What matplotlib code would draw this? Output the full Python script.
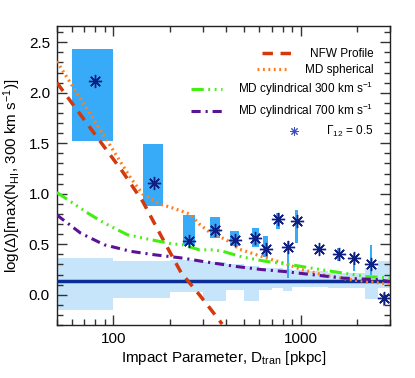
import numpy as np
import matplotlib
matplotlib.use('Agg')
import matplotlib.pyplot as plt
from matplotlib.ticker import FixedLocator, NullFormatter, FuncFormatter, MultipleLocator

plt.rcParams['font.family'] = ['Liberation Sans', 'DejaVu Sans']
plt.rcParams['mathtext.fontset'] = 'custom'
plt.rcParams['mathtext.rm'] = 'Liberation Sans'
plt.rcParams['mathtext.it'] = 'Liberation Sans:italic'

# measured points (Gamma_12 = 0.5) and their box extents
pt_x = [80, 164, 253, 350, 444, 574, 650, 753, 855, 955, 1247, 1596, 1927, 2366, 2780]
pt_y = [2.12, 1.105, 0.535, 0.637, 0.545, 0.56, 0.455, 0.752, 0.472, 0.726, 0.455, 0.406, 0.363, 0.307, -0.033]
box_xlo = [60, 144, 235, 330, 422, 553, 626, 738, 845, 933, 1225, 1570, 1895, 2330, 2740]
box_xhi = [100, 184, 274, 369, 466, 596, 672, 773, 863, 973, 1270, 1625, 1960, 2405, 2820]
box_ylo = [1.525, 0.88, 0.49, 0.56, 0.485, 0.47, 0.373, 0.65, 0.17, 0.51, 0.42, 0.337, 0.24, 0.198, -0.11]
box_yhi = [2.43, 1.49, 0.79, 0.77, 0.627, 0.66, 0.577, 0.81, 0.53, 0.835, 0.48, 0.46, 0.41, 0.495, 0.02]

# random-sightline band
band_edges = [50, 100, 200, 300, 400, 500, 600, 700, 800, 900, 1100, 1400, 1800, 2200, 2600, 3000]
band_top = [0.363, 0.337, 0.345, 0.32, 0.30, 0.28, 0.27, 0.27, 0.26, 0.25, 0.24, 0.22, 0.22, 0.27, 0.337]
band_bot = [-0.149, -0.033, 0.03, -0.066, 0.043, -0.06, 0.05, 0.066, 0.033, 0.076, 0.08, 0.066, 0.07, -0.04, 0.066]
mean_level = 0.132

# model curves
nfw_x = [50, 79, 112, 144, 184, 230, 288, 330, 381]
nfw_y = [2.10, 1.60, 1.22, 0.92, 0.55, 0.22, 0.0, -0.14, -0.29]

sph_x = [50, 89.5, 124, 143, 176, 207, 255, 288, 326, 400, 472, 667, 822, 1010, 1370, 1830, 2870, 3000]
sph_y = [2.31, 1.57, 1.155, 1.0, 0.90, 0.86, 0.80, 0.70, 0.62, 0.545, 0.45, 0.36, 0.31, 0.25, 0.19, 0.15, 0.11, 0.11]

cyl300_x = [50, 73, 89.5, 119, 159, 204, 235, 288, 340, 384, 491, 656, 873, 1140, 1490, 2245, 2870, 3000]
cyl300_y = [1.013, 0.81, 0.71, 0.594, 0.545, 0.505, 0.495, 0.445, 0.445, 0.43, 0.373, 0.33, 0.30, 0.264, 0.23, 0.18, 0.17, 0.17]

cyl700_x = [50, 67, 89.5, 124, 166, 235, 300, 453, 617, 821, 1141, 1683, 2540, 3000]
cyl700_y = [0.79, 0.61, 0.495, 0.43, 0.396, 0.363, 0.33, 0.28, 0.25, 0.23, 0.2, 0.165, 0.15, 0.13]

fig = plt.figure(figsize=(4.15, 3.78), dpi=100)
ax = fig.add_axes([0.137, 0.140, 0.803, 0.791])

# band
ax.fill_between(band_edges, band_bot + [band_bot[-1]], band_top + [band_top[-1]],
                step='post', color='#c6e5fa', lw=0, zorder=1)
ax.axhline(mean_level, color='#0a2d96', lw=2.5, zorder=4)

# boxes
for xl, xh, yl, yh in zip(box_xlo, box_xhi, box_ylo, box_yhi):
    ax.fill_between([xl, xh], [yl, yl], [yh, yh], color='#38abf8', lw=0, zorder=2)

ax.plot(nfw_x, nfw_y, color='#d4380d', lw=2.5, ls=(0, (3.0, 2.2)), zorder=5,
        label='NFW Profile')
ax.plot(sph_x, sph_y, color='#ff7f1e', lw=2.3, ls=(0, (0.6, 1.1)), zorder=5,
        label='MD spherical')
ax.plot(cyl300_x, cyl300_y, color='#44ee11', lw=2.2,
        ls=(0, (4, 1.5, 0.6, 1.5, 0.6, 1.5, 0.6, 1.5)), zorder=5,
        label=r'MD cylindrical 300 km s$^{-1}$')
ax.plot(cyl700_x, cyl700_y, color='#5c1196', lw=2.2, ls=(0, (3.0, 1.6, 0.7, 1.6)),
        zorder=5, label=r'MD cylindrical 700 km s$^{-1}$')
ax.plot(pt_x, pt_y, ls='none', marker=(8, 2, 0), ms=9.5, mew=1.0, color='#0f1f82',
        zorder=6, label=r'$\Gamma_{12}$ = 0.5')

ax.set_xscale('log')
ax.set_xlim(50, 3000)
ax.set_ylim(-0.3, 2.66)

ax.xaxis.set_major_locator(FixedLocator([100, 1000]))
ax.xaxis.set_major_formatter(FuncFormatter(lambda v, p: '%d' % v))
ax.xaxis.set_minor_locator(FixedLocator([50, 60, 70, 80, 90, 200, 300, 400, 500,
                                         600, 700, 800, 900, 2000, 3000]))
ax.xaxis.set_minor_formatter(NullFormatter())
ax.yaxis.set_major_locator(MultipleLocator(0.5))
ax.yaxis.set_minor_locator(MultipleLocator(0.1))
ax.yaxis.set_major_formatter(FuncFormatter(lambda v, p: '%.1f' % v))

ax.tick_params(which='both', direction='in', top=True, right=True, color='#333333',
               labelsize=11, width=1)
ax.tick_params(which='major', length=7, pad=5)
ax.tick_params(which='minor', length=4)
for s in ax.spines.values():
    s.set_color('#222222')
    s.set_linewidth(1)

ax.set_xlabel(r'Impact Parameter, D$_{\rm tran}$ [pkpc]', fontsize=11, labelpad=2)
ax.set_ylabel(r'log($\Delta$)[max(N$_{\rm HI}$, 300 km s$^{-1}$)]', fontsize=11, labelpad=4)

leg = ax.legend(loc='upper right', frameon=False, fontsize=8.5, handlelength=2.6,
                handletextpad=1.4, labelspacing=0.32, borderaxespad=0.6,
                bbox_to_anchor=(0.985, 0.965))
for col in leg._legend_handle_box.get_children():
    col.align = 'right'
mk = leg.legend_handles[4]
mk.set_markersize(6)
mk.set_markeredgewidth(0.7)
mk.set_color('#3a4fc0')

fig.savefig('out.png', dpi=100)
